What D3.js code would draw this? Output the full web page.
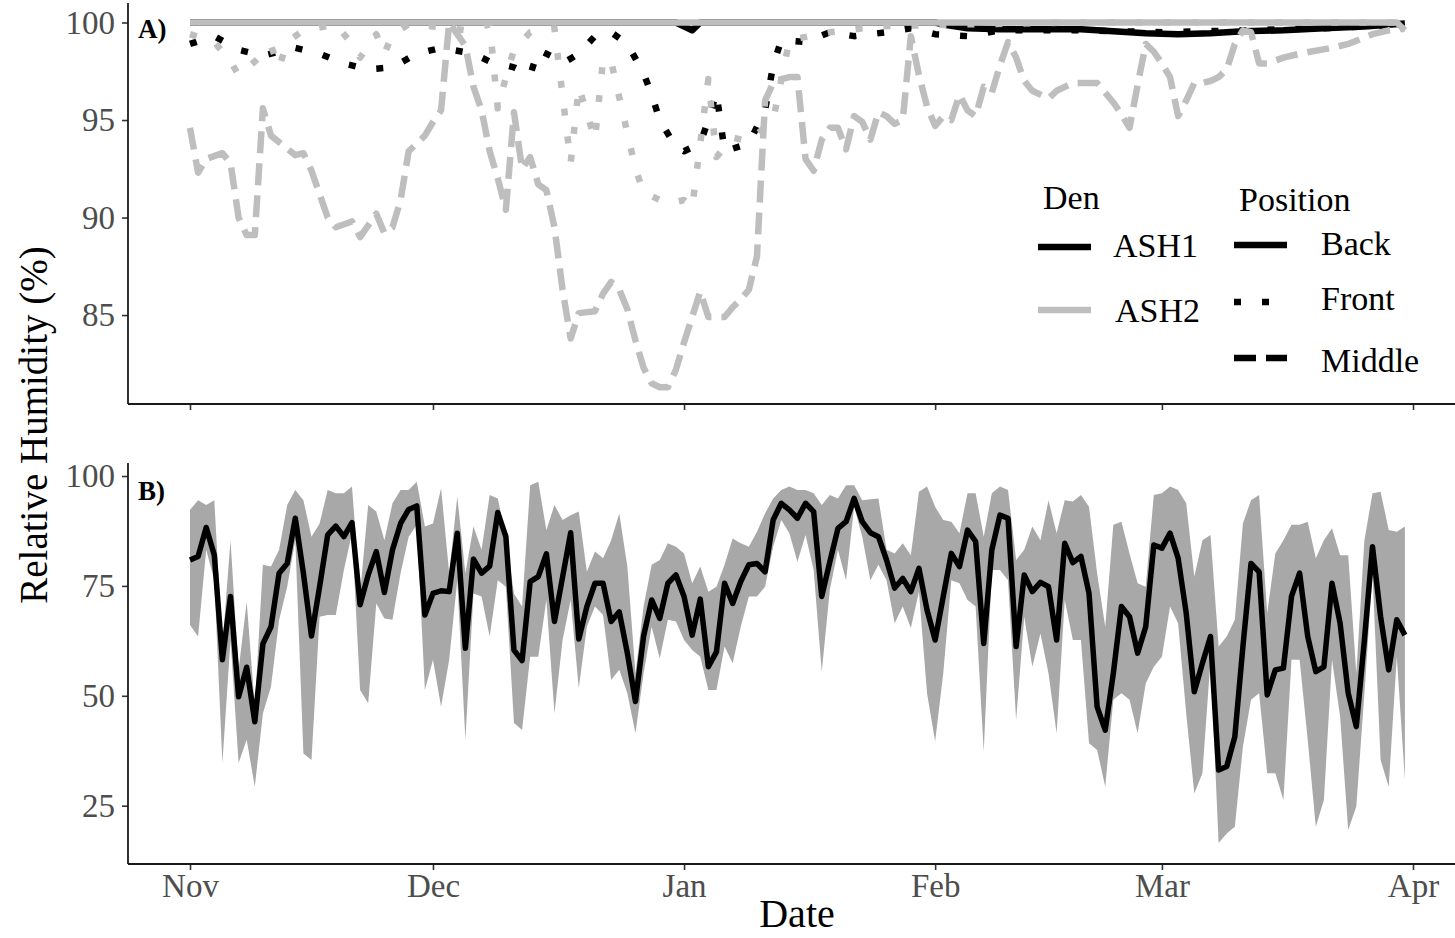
<!DOCTYPE html>
<html>
<head>
<meta charset="utf-8">
<script src="https://d3js.org/d3.v7.min.js"></script>
<style>
  body { margin: 0; background: #fff; }
  text { font-family: "Liberation Serif", "Times New Roman", serif; }
</style>
</head>
<body>
<div id="chart"></div>
<script>

// ---- data ----
var monthLabels = ["Nov", "Dec", "Jan", "Feb", "Mar", "Apr"];
var monthStarts = [[2018, 10], [2018, 11], [2019, 0], [2019, 1], [2019, 2], [2019, 3]];
var ticksA = [85, 90, 95, 100];
var ticksB = [25, 50, 75, 100];

// panel A : [day since Nov 1, RH %]
var ash1Back = [[0,100],[60,100],[62,99.6],[63,100],[92,100],[93,99.9],[96,99.7],[100,99.65],[105,99.65],
  [110,99.65],[114,99.55],[118,99.45],[122,99.4],[126,99.45],[130,99.55],[135,99.6],[140,99.7],[145,99.8],[150,99.95]];
var ash1Front = [[0,98.9],[3,99.3],[6,98.6],[9,98.3],[13,98.7],[16,98.4],[19,97.9],[22,97.6],[25,97.7],[28,98.4],
  [31,98.7],[35,98.4],[37,98.0],[40,97.7],[42,97.3],[43,98.6],[45,98.2],[46,97.9],[48,98.4],[50,99.3],
  [52,99.5],[54,98.9],[56,97.4],[57,96.3],[58,95.0],[60,93.6],[61,93.4],[63,93.8],[64,95.0],[65,96.4],
  [66,93.4],[69,93.8],[71,95.5],[72,97.8],[73,99.1],[76,99.0],[79,99.5],[82,99.3],[86,99.5],[89,99.7],
  [92,99.4],[96,99.3],[100,99.6],[110,99.6],[120,99.5],[130,99.6],[140,99.7],[150,99.9]];
var ash2Back = [[0,100],[149,100],[150,99.6]];
var ash2Front = [[0,99.4],[3,99.0],[5,98.0],[6,97.3],[8,98.0],[10,98.8],[11,97.7],[12,99.0],[14,99.6],[18,99.9],
  [20,98.9],[21,98.2],[23,99.4],[24,98.4],[25,99.4],[27,99.9],[30,99.8],[34,99.6],[37,99.9],[38,95.6],
  [39,97.2],[40,98.6],[42,99.5],[45,99.7],[47,92.8],[48,96.7],[50,94.0],[51,98.1],[52,98.0],[55,92.5],
  [56,91.3],[59,90.7],[61,90.9],[62,90.5],[64,97.1],[65,93.1],[67,94.1],[69,93.9],[72,95.0],[74,99.1],
  [79,99.5],[85,99.8],[95,99.9],[110,100],[150,100]];
var ash2Middle = [[0,94.6],[1,92.3],[2,93.0],[4,93.3],[5,92.8],[6,90.0],[7,89.1],[8,89.1],[9,95.6],[10,94.2],
  [13,93.2],[14,93.3],[15,92.4],[16,91.2],[17,90.0],[18,89.5],[20,89.8],[21,89.0],[23,90.2],[24,89.2],
  [25,89.5],[26,90.9],[27,93.4],[29,94.2],[30,94.9],[31,95.5],[32,100],[34,98.8],[35,96.7],[36,95.5],
  [37,93.4],[38,92.0],[39,90.4],[40,95.4],[41,92.5],[42,93.1],[43,91.7],[44,91.4],[45,89.5],[46,86.3],
  [47,83.8],[48,85.1],[50,85.2],[51,86.1],[52,86.7],[53,86.3],[54,85.3],[55,83.7],[56,82.3],[57,81.5],
  [58,81.3],[59,81.3],[60,82.2],[61,83.6],[62,84.9],[63,86.2],[64,84.9],[65,84.9],[66,84.9],[67,85.4],
  [68,85.8],[69,86.3],[70,88.0],[71,96.0],[72,96.9],[73,97.1],[74,97.2],[75,97.2],[76,93.0],[77,92.4],
  [78,94.0],[79,94.6],[80,94.6],[81,93.5],[82,95.2],[83,94.9],[84,94.0],[85,95.4],[86,95.2],[87,94.8],
  [88,95.0],[89,99.3],[90,97.3],[91,95.7],[92,94.7],[93,95.2],[94,95.0],[95,96.3],[96,95.5],[97,95.2],
  [98,96.7],[99,96.4],[100,97.8],[101,99.0],[102,98.2],[103,97.0],[104,96.5],[105,96.3],[106,96.1],[107,96.5],
  [108,96.7],[109,96.9],[110,96.9],[111,96.9],[112,96.9],[113,96.4],[114,95.9],[115,95.3],[116,94.6],[117,96.8],
  [118,98.9],[119,98.5],[120,97.9],[121,97.2],[122,95.2],[123,96.0],[124,96.9],[125,96.9],[126,97.0],[127,97.2],
  [128,97.6],[129,98.9],[130,99.6],[131,99.5],[132,97.9],[133,97.9],[135,98.2],[137,98.4],[141,98.7],[143,98.9],
  [146,99.4],[148,99.6],[150,99.7]];

// panel B : daily from Nov 1 to Mar 31
var meanRH = [
  80.9, 81.7, 88.3, 82.0, 58.2, 72.6, 49.8, 56.5, 44.1, 61.8,
  65.7, 77.9, 80.1, 90.4, 77.9, 63.6, 74.8, 86.6, 88.6, 86.2,
  89.4, 70.7, 77.5, 82.8, 73.5, 83.2, 89.2, 92.4, 93.2, 68.4,
  73.3, 73.9, 73.7, 87.0, 60.8, 81.1, 77.9, 79.5, 91.7, 86.2,
  60.4, 58.0, 76.0, 77.1, 82.3, 66.9, 77.0, 87.1, 62.9, 70.3,
  75.6, 75.6, 66.9, 69.1, 59.7, 48.7, 63.5, 71.8, 67.6, 75.6,
  77.5, 72.6, 63.8, 72.0, 56.6, 60.0, 75.6, 71.0, 76.0, 79.8,
  80.1, 78.2, 90.0, 93.8, 92.3, 90.4, 93.8, 91.9, 72.6, 80.5,
  88.1, 89.6, 94.9, 89.6, 87.1, 86.2, 80.9, 74.5, 76.7, 73.7,
  79.0, 69.5, 62.7, 72.6, 82.4, 79.4, 87.7, 85.1, 61.9, 83.2,
  91.1, 90.4, 61.2, 77.5, 73.7, 75.8, 74.8, 62.7, 84.7, 80.3,
  81.7, 73.3, 47.5, 42.2, 55.1, 70.3, 68.0, 59.7, 65.7, 84.3,
  83.6, 87.0, 81.3, 68.8, 50.9, 57.4, 63.5, 33.1, 33.9, 40.7,
  61.2, 80.1, 78.2, 50.2, 55.9, 56.3, 72.6, 77.9, 63.5, 55.5,
  56.6, 75.6, 66.5, 50.6, 43.0, 62.7, 83.9, 68.0, 55.9, 67.3,
  63.8];
var maxRH = [
  92.3, 94.5, 93.4, 94.5, 61.2, 85.4, 55.9, 71.4, 47.5, 79.8,
  79.4, 83.2, 93.4, 96.8, 94.5, 86.2, 89.2, 96.8, 96.1, 96.1,
  97.6, 73.3, 93.4, 91.9, 85.4, 93.8, 96.8, 96.8, 98.7, 88.5,
  89.2, 97.2, 77.9, 95.3, 77.9, 88.5, 83.2, 95.7, 94.9, 86.2,
  73.3, 70.3, 97.9, 98.7, 87.7, 93.4, 90.0, 91.1, 91.9, 78.2,
  82.8, 81.3, 85.4, 91.5, 79.4, 55.1, 70.3, 79.8, 80.9, 84.7,
  83.9, 82.4, 75.6, 79.4, 73.7, 74.8, 79.8, 85.8, 84.7, 83.9,
  87.3, 91.5, 94.9, 96.8, 97.6, 96.8, 96.8, 96.1, 93.4, 95.7,
  94.9, 97.9, 97.9, 94.5, 94.7, 94.9, 83.2, 82.4, 84.7, 82.0,
  96.4, 97.6, 93.0, 90.0, 89.6, 87.0, 96.1, 96.1, 86.2, 96.1,
  97.6, 96.8, 80.9, 83.2, 88.5, 85.4, 94.5, 87.0, 94.5, 94.2,
  95.7, 93.0, 77.9, 65.7, 88.9, 89.6, 82.4, 75.6, 74.8, 95.7,
  96.1, 97.6, 96.8, 93.8, 77.1, 85.4, 86.6, 61.2, 63.5, 67.3,
  89.2, 94.5, 95.7, 68.8, 82.4, 85.4, 88.9, 88.9, 89.6, 81.3,
  85.4, 88.1, 82.0, 82.0, 55.1, 85.4, 96.1, 96.4, 87.7, 87.3,
  88.5];
var minRH = [
  66.1, 63.5, 83.2, 76.3, 34.7, 62.7, 34.7, 40.0, 29.3, 46.0,
  52.1, 67.2, 74.8, 85.4, 36.9, 35.4, 68.0, 68.4, 68.4, 78.6,
  87.0, 51.3, 48.3, 71.0, 67.6, 67.3, 77.9, 86.2, 88.9, 51.3,
  58.2, 47.5, 58.2, 76.3, 40.0, 73.3, 72.6, 63.5, 76.3, 74.8,
  43.8, 42.2, 58.9, 58.9, 71.8, 46.0, 62.7, 71.8, 51.7, 65.7,
  70.3, 68.4, 53.6, 55.9, 50.6, 41.5, 55.1, 65.7, 58.5, 67.3,
  66.9, 62.7, 60.4, 58.9, 51.3, 51.3, 61.2, 57.4, 65.7, 72.6,
  72.6, 74.8, 83.9, 90.0, 87.0, 80.5, 86.6, 78.6, 55.5, 74.1,
  83.2, 76.3, 93.0, 86.2, 76.3, 79.8, 76.3, 66.5, 70.3, 65.4,
  73.7, 50.6, 39.6, 55.1, 76.3, 75.6, 71.8, 70.3, 37.3, 78.6,
  78.6, 76.3, 44.5, 68.0, 56.6, 64.2, 55.1, 41.5, 71.8, 62.7,
  62.7, 39.2, 37.7, 29.3, 49.1, 50.6, 49.1, 41.5, 52.8, 56.6,
  58.9, 70.3, 66.5, 46.0, 27.8, 32.4, 58.2, 16.5, 18.7, 20.2,
  38.4, 49.1, 50.6, 32.4, 32.4, 26.3, 58.2, 58.2, 40.0, 20.2,
  26.3, 58.2, 45.3, 19.5, 24.8, 50.6, 77.9, 35.4, 29.3, 58.9,
  30.9];

// ---- setup ----
var W = 1455, H = 938;
var left = 128, right = 1474;
var startDate = new Date(Date.UTC(2018, 10, 1));
function dayDate(d) { return d3.utcDay.offset(startDate, d); }
var monthDates = monthStarts.map(function(m) { return new Date(Date.UTC(m[0], m[1], 1)); });

var svg = d3.select("#chart").append("svg")
  .attr("width", W).attr("height", H);

var x = d3.scaleUtc()
  .domain([monthDates[0], monthDates[5]])
  .range([190, 1413]);

var yA = d3.scaleLinear().domain([80.44, 101.0]).range([404, 3]);
var yB = d3.scaleLinear().domain([11.74, 102.96]).range([864, 463]);

function styleAxis(g) {
  g.select(".domain").remove();
  g.selectAll(".tick line").attr("stroke", "#333").attr("stroke-width", 1.6);
  g.selectAll(".tick text").attr("fill", "#4d4d4d")
    .style("font-size", "33px").style("font-family", "'Liberation Serif', serif");
}

function axisLines(top, bottom) {
  svg.append("line").attr("x1", left).attr("x2", left).attr("y1", top).attr("y2", bottom)
    .attr("stroke", "#1a1a1a").attr("stroke-width", 1.8);
  svg.append("line").attr("x1", left).attr("x2", right).attr("y1", bottom).attr("y2", bottom)
    .attr("stroke", "#1a1a1a").attr("stroke-width", 1.8);
}

// ---- panel A ----
var lineA = d3.line()
  .x(function(d) { return x(dayDate(d[0])); })
  .y(function(d) { return yA(d[1]); });

var black = "#000000", grey = "#bebebe";
var dotted = "7,21", dashed = "22,10";
var seriesA = [
  { data: ash1Back, color: black, dash: null },
  { data: ash1Front, color: black, dash: dotted },
  { data: ash2Back, color: grey, dash: null },
  { data: ash2Front, color: grey, dash: dotted },
  { data: ash2Middle, color: grey, dash: dashed }
];

seriesA.forEach(function(s) {
  svg.append("path")
    .datum(s.data)
    .attr("fill", "none")
    .attr("stroke", s.color)
    .attr("stroke-width", 6.5)
    .attr("stroke-dasharray", s.dash)
    .attr("stroke-linejoin", "round")
    .attr("d", lineA);
});

svg.append("g")
  .attr("transform", "translate(" + left + ",0)")
  .call(d3.axisLeft(yA).tickValues(ticksA).tickSize(6).tickPadding(7))
  .call(styleAxis);
svg.append("g")
  .attr("transform", "translate(0,404)")
  .call(d3.axisBottom(x).tickValues(monthDates).tickSize(6).tickFormat(""))
  .call(styleAxis);
axisLines(3, 404);

svg.append("text").attr("x", 138).attr("y", 38)
  .style("font-size", "27px").style("font-weight", "bold").text("A)");

// legend
var legend = svg.append("g");
legend.append("text").attr("x", 1043).attr("y", 209).style("font-size", "34px").text("Den");
legend.append("text").attr("x", 1239).attr("y", 211).style("font-size", "34px").text("Position");

var denKeys = [{ label: "ASH1", color: black, y: 247, ty: 257, tx: 1113 },
               { label: "ASH2", color: grey, y: 310, ty: 322, tx: 1115 }];
denKeys.forEach(function(k) {
  legend.append("line").attr("x1", 1038).attr("x2", 1091).attr("y1", k.y).attr("y2", k.y)
    .attr("stroke", k.color).attr("stroke-width", 6.5);
  legend.append("text").attr("x", k.tx).attr("y", k.ty).style("font-size", "34px").text(k.label);
});

var posKeys = [{ label: "Back", dash: null, y: 245, ty: 255 },
               { label: "Front", dash: dotted, y: 302, ty: 310 },
               { label: "Middle", dash: dashed, y: 358, ty: 372 }];
posKeys.forEach(function(k) {
  legend.append("line").attr("x1", 1234).attr("x2", 1287).attr("y1", k.y).attr("y2", k.y)
    .attr("stroke", black).attr("stroke-width", 6.5).attr("stroke-dasharray", k.dash);
  legend.append("text").attr("x", 1321).attr("y", k.ty).style("font-size", "34px").text(k.label);
});

// ---- panel B ----
var daily = meanRH.map(function(v, i) {
  return { date: dayDate(i), mean: v, lo: minRH[i], hi: maxRH[i] };
});

svg.append("path")
  .datum(daily)
  .attr("fill", "#a8a8a8")
  .attr("d", d3.area()
    .x(function(d) { return x(d.date); })
    .y0(function(d) { return yB(d.lo); })
    .y1(function(d) { return yB(d.hi); }));

svg.append("path")
  .datum(daily)
  .attr("fill", "none")
  .attr("stroke", "#000")
  .attr("stroke-width", 5.5)
  .attr("stroke-linejoin", "round")
  .attr("d", d3.line()
    .x(function(d) { return x(d.date); })
    .y(function(d) { return yB(d.mean); }));

svg.append("g")
  .attr("transform", "translate(" + left + ",0)")
  .call(d3.axisLeft(yB).tickValues(ticksB).tickSize(6).tickPadding(7))
  .call(styleAxis);
svg.append("g")
  .attr("transform", "translate(0,864)")
  .call(d3.axisBottom(x).tickValues(monthDates).tickSize(6).tickPadding(4)
    .tickFormat(function(d, i) { return monthLabels[i]; }))
  .call(styleAxis);
axisLines(463, 864);

svg.append("text").attr("x", 138).attr("y", 500)
  .style("font-size", "27px").style("font-weight", "bold").text("B)");

// axis titles
svg.append("text")
  .attr("transform", "translate(47,425) rotate(-90)")
  .attr("text-anchor", "middle")
  .style("font-size", "39px")
  .text("Relative Humidity (%)");

svg.append("text")
  .attr("x", 797).attr("y", 927)
  .attr("text-anchor", "middle")
  .style("font-size", "40px")
  .text("Date");

</script>
</body>
</html>
